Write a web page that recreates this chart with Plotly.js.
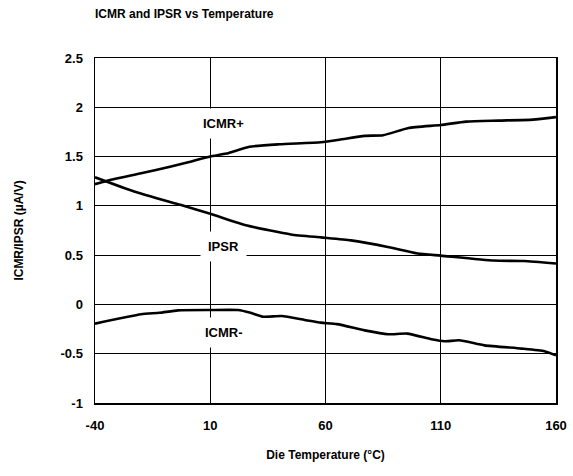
<!DOCTYPE html>
<html>
<head>
<meta charset="utf-8">
<script src="https://cdn.plot.ly/plotly-3.0.1.min.js"></script>
<style>html,body{margin:0;padding:0;background:#fff;}#chart{width:573px;height:476px;}</style>
</head>
<body>
<div id="chart"></div>
<script>
// Data
const icmrPlusT = [-40, -32, -20, -7, 0, 10, 17, 27, 40, 58, 66, 77, 85, 96, 110, 121, 135, 150, 160];
const icmrPlusV = [1.22, 1.27, 1.33, 1.40, 1.44, 1.50, 1.53, 1.60, 1.625, 1.645, 1.67, 1.71, 1.716, 1.79, 1.82, 1.855, 1.865, 1.875, 1.90];

const ipsrT = [-40, -23, -3, 10, 26, 45, 58, 71, 87, 100, 110, 133, 146, 160];
const ipsrV = [1.29, 1.146, 1.01, 0.92, 0.80, 0.71, 0.68, 0.65, 0.583, 0.516, 0.495, 0.445, 0.44, 0.415];

const icmrMinusT = [-40, -20, -12, -4, 10, 22, 27.5, 33, 41, 51, 58, 65, 77, 87, 95.5, 106, 111.6, 118, 129, 145, 155, 160];
const icmrMinusV = [-0.195, -0.10, -0.085, -0.06, -0.057, -0.057, -0.085, -0.125, -0.118, -0.158, -0.185, -0.20, -0.263, -0.303, -0.296, -0.354, -0.374, -0.364, -0.415, -0.448, -0.475, -0.516];

const xTickVals = [-40, 10, 60, 110, 160];
const xTickText = ['-40', '10', '60', '110', '160'];
const yTickVals = [-1, -0.5, 0, 0.5, 1, 1.5, 2, 2.5];
const yTickText = ['-1', '-0.5', '0', '0.5', '1', '1.5', '2', '2.5'];

const seriesLabels = ['ICMR+', 'IPSR', 'ICMR-'];
const labelT = [15.8, 15.8, 15.8];
const labelV = [1.84, 0.59, -0.28];

const lineStyle = {color: '#000', width: 2.6, shape: 'spline', smoothing: 0.5};
const traces = [
  {x: icmrPlusT, y: icmrPlusV, mode: 'lines', line: lineStyle, name: seriesLabels[0]},
  {x: ipsrT, y: ipsrV, mode: 'lines', line: lineStyle, name: seriesLabels[1]},
  {x: icmrMinusT, y: icmrMinusV, mode: 'lines', line: lineStyle, name: seriesLabels[2]}
];

const font = {family: 'Arial, "Liberation Sans", sans-serif', size: 12, color: '#000', weight: 'bold'};

const annotations = seriesLabels.map((s, i) => ({
  x: labelT[i], y: labelV[i], xref: 'x', yref: 'y', text: s, showarrow: false,
  bgcolor: '#fff', borderpad: 7,
  font: {family: font.family, size: 13, color: '#000', weight: 'bold'}
}));

const layout = {
  width: 573, height: 476,
  margin: {l: 95, r: 17, t: 58, b: 73},
  paper_bgcolor: '#fff', plot_bgcolor: '#fff',
  showlegend: false,
  font: font,
  title: {text: 'ICMR and IPSR vs Temperature', x: 0, xref: 'paper', xanchor: 'left', y: 0.97, yref: 'container', yanchor: 'middle',
          font: {family: font.family, size: 12, color: '#000', weight: 'bold'}},
  xaxis: {
    range: [-40, 160], tickvals: xTickVals, ticktext: xTickText,
    showgrid: true, gridcolor: '#000', gridwidth: 1,
    showline: true, linecolor: '#000', linewidth: 1.5, mirror: true,
    ticks: '', zeroline: false, ticklabelstandoff: 10,
    tickfont: {family: font.family, size: 13, color: '#000', weight: 'bold'},
    title: {text: 'Die Temperature (°C)', standoff: 18, font: {family: font.family, size: 12, color: '#000', weight: 'bold'}}
  },
  yaxis: {
    range: [-1, 2.5], tickvals: yTickVals, ticktext: yTickText,
    showgrid: true, gridcolor: '#000', gridwidth: 1,
    showline: true, linecolor: '#000', linewidth: 1.5, mirror: true,
    ticks: '', zeroline: false, ticklabelstandoff: 8,
    tickfont: {family: font.family, size: 13, color: '#000', weight: 'bold'},
    title: {text: 'ICMR/IPSR (µA/V)', standoff: 34, font: {family: font.family, size: 12, color: '#000', weight: 'bold'}}
  },
  annotations: annotations
};

Plotly.newPlot('chart', traces, layout, {staticPlot: true, displayModeBar: false});
</script>
</body>
</html>
